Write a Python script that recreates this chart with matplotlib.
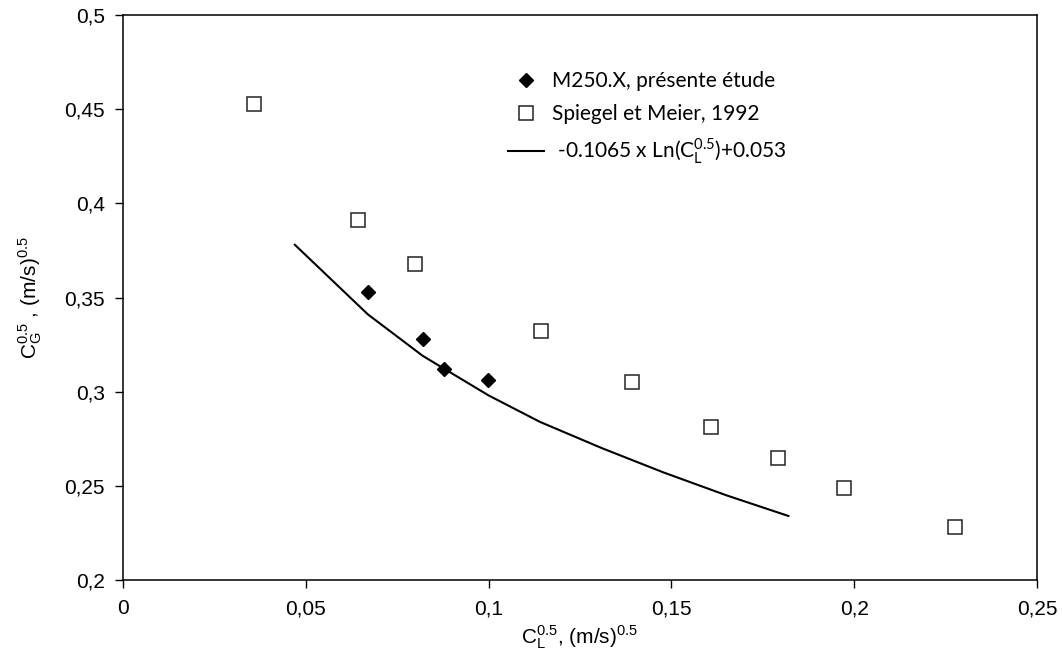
import matplotlib
matplotlib.use("Agg")
import matplotlib.pyplot as plt
from matplotlib.ticker import FixedLocator, FixedFormatter

# present study (M250.X)
m250_x = [0.0670, 0.0820, 0.0878, 0.0998]
m250_y = [0.353, 0.328, 0.312, 0.306]

# Spiegel et Meier, 1992
spiegel_x = [0.0358, 0.0643, 0.0799, 0.1143, 0.1392, 0.1608, 0.1792, 0.1972, 0.2276]
spiegel_y = [0.453, 0.391, 0.368, 0.332, 0.305, 0.281, 0.265, 0.249, 0.228]

# correlation curve, points
fit_x = [0.047, 0.067, 0.082, 0.088, 0.100, 0.114, 0.131, 0.148, 0.165, 0.182]
fit_y = [0.378, 0.341, 0.319, 0.312, 0.298, 0.284, 0.270, 0.257, 0.245, 0.234]

xticks = [0, 0.05, 0.1, 0.15, 0.2, 0.25]
xtick_labels = ["0", "0,05", "0,1", "0,15", "0,2", "0,25"]
yticks = [0.2, 0.25, 0.3, 0.35, 0.4, 0.45, 0.5]
ytick_labels = ["0,2", "0,25", "0,3", "0,35", "0,4", "0,45", "0,5"]

plt.rcParams["font.family"] = ["Liberation Sans", "DejaVu Sans"]
plt.rcParams["mathtext.fontset"] = "custom"
plt.rcParams["mathtext.rm"] = "Lato"
plt.rcParams["mathtext.sf"] = "Liberation Sans"

fig = plt.figure(figsize=(10.62, 6.62), dpi=100)
ax = fig.add_axes([123 / 1062, 1 - 580 / 662, (1037 - 123) / 1062, (580 - 15) / 662])

ax.plot(m250_x, m250_y, linestyle="none", marker="D", markersize=7.5,
        color="black", label="M250.X, présente étude")
ax.plot(spiegel_x, spiegel_y, linestyle="none", marker="s", markersize=9.5,
        markerfacecolor="white", markeredgecolor="#222222", markeredgewidth=1.1,
        label="Spiegel et Meier, 1992")
ax.plot(fit_x, fit_y, color="black", linewidth=1.5,
        label=r" -0.1065 x Ln(C$_\mathrm{L}^{\mathrm{0.5}}$)+0.053")

ax.set_xlim(0, 0.25)
ax.set_ylim(0.2, 0.5)
ax.xaxis.set_major_locator(FixedLocator(xticks))
ax.xaxis.set_major_formatter(FixedFormatter(xtick_labels))
ax.yaxis.set_major_locator(FixedLocator(yticks))
ax.yaxis.set_major_formatter(FixedFormatter(ytick_labels))
ax.tick_params(direction="out", length=6, width=1, labelsize=15)
ax.tick_params(axis="x", pad=8)
ax.tick_params(axis="y", pad=7)
for s in ax.spines.values():
    s.set_linewidth(1.1)

ax.set_xlabel(r"$\mathsf{C_L^{0.5}}$, (m/s)$^\mathsf{0.5}$", fontsize=15, labelpad=4)
ax.set_ylabel(r"$\mathsf{C_G^{0.5}}$ , (m/s)$^\mathsf{0.5}$", fontsize=15, labelpad=14)

ax.legend(loc="upper left", bbox_to_anchor=(498 / 1062, 1 - 61 / 662),
          bbox_transform=fig.transFigure, frameon=False, borderpad=0,
          handlelength=1.7, handletextpad=0.4, labelspacing=0.6,
          prop={"family": "Lato", "size": 15})

fig.savefig("out.png", dpi=100)
